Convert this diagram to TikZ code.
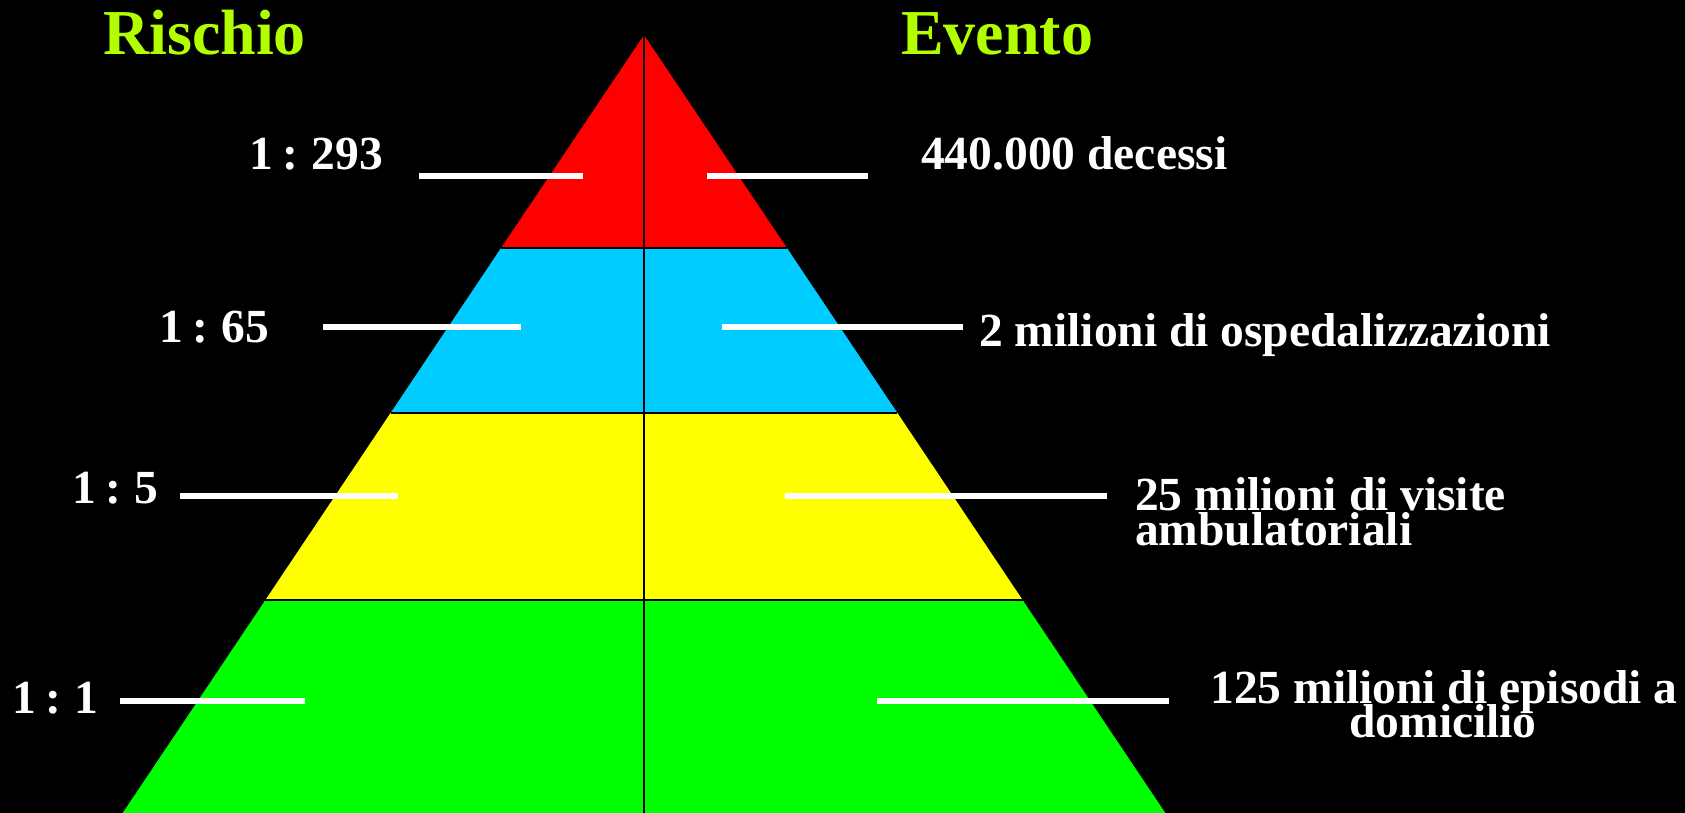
\documentclass[tikz,border=0pt]{standalone}
\usepackage{fontspec}
\setmainfont{Liberation Serif}
\definecolor{titlecol}{RGB}{178,255,0}
\definecolor{pred}{RGB}{255,0,0}
\definecolor{pblue}{RGB}{0,204,255}
\definecolor{pyellow}{RGB}{255,255,0}
\definecolor{pgreen}{RGB}{0,255,0}
\tikzset{
  titletext/.style={inner sep=0pt, text=titlecol, font=\fontsize{64}{64}\selectfont\bfseries},
  labeltext/.style={inner sep=0pt, text=white, font=\fontsize{47.5}{35}\selectfont\bfseries},
  risktext/.style={labeltext, execute at begin node={\spaceskip=9.5pt\relax}},
  band/.style={draw=black, line width=2pt},
  tick/.style={draw=white, line width=6pt},
}
\begin{document}
\begin{tikzpicture}[x=1pt,y=-1pt]
\fill[black] (0,0) rectangle (1685,813);
\useasboundingbox (0,0) rectangle (1685,813);
% pyramid geometry: apex (644,35)
\coordinate (apex) at (644,35);
\begin{scope}
\clip (0,0) rectangle (1685,813);
\fill[pred]    (644,35) -- (786.6,247.5) -- (501.4,247.5) -- cycle;
\fill[pblue]   (501.4,247.5) -- (786.6,247.5) -- (897.1,412.5) -- (390.9,412.5) -- cycle;
\fill[pyellow] (390.9,412.5) -- (897.1,412.5) -- (1022.6,600) -- (265.4,600) -- cycle;
\fill[pgreen]  (265.4,600) -- (1022.6,600) -- (1170,820) -- (118,820) -- cycle;
\draw[band] (501.4,247.5) -- (786.6,247.5);
\draw[band] (390.9,412.5) -- (897.1,412.5);
\draw[band] (265.4,600) -- (1022.6,600);
\draw[black, line width=2pt] (apex) -- (644,820);
\end{scope}
% titles
\node[titletext, anchor=base west] (rischio) at (103,54.5) {Rischio};
\node[titletext, anchor=base west] (evento) at (901,54.5) {Evento};
% left labels
\node[risktext, anchor=base east] (r1) at (383,170) {1 : 293};
\node[risktext, anchor=base east] (r2) at (269.5,342) {1 : 65};
\node[risktext, anchor=base east] (r3) at (158.5,503) {1 : 5};
\node[risktext, anchor=base east] (r4) at (98.5,713) {1 : 1};
% right labels
\node[labeltext, anchor=base west] (e1) at (921,170) {440.000 decessi};
\node[labeltext, anchor=base west] (e2) at (979,346) {2 milioni di ospedalizzazioni};
\node[labeltext, anchor=base west] (e3a) at (1135,510) {25 milioni di visite};
\node[labeltext, anchor=base west] (e3b) at (1135,545) {ambulatoriali};
\node[labeltext, anchor=base] (e4a) at (1444,703) {125 milioni di episodi a};
\node[labeltext, anchor=base] (e4b) at (1443,737) {domicilio};
% tick lines
\coordinate (l1a) at (419,176); \coordinate (l1b) at (583,176);
\coordinate (l2a) at (323,326.5); \coordinate (l2b) at (521,326.5);
\coordinate (l3a) at (179.5,496); \coordinate (l3b) at (398,496);
\coordinate (l4a) at (120,700.5); \coordinate (l4b) at (305,700.5);
\coordinate (m1a) at (707,176); \coordinate (m1b) at (868,176);
\coordinate (m2a) at (722,326.5); \coordinate (m2b) at (963,326.5);
\coordinate (m3a) at (784.5,496); \coordinate (m3b) at (1107,496);
\coordinate (m4a) at (877,700.5); \coordinate (m4b) at (1169,700.5);
\draw[tick] (l1a) -- (l1b);
\draw[tick] (l2a) -- (l2b);
\draw[tick] (l3a) -- (l3b);
\draw[tick] (l4a) -- (l4b);
\draw[tick] (m1a) -- (m1b);
\draw[tick] (m2a) -- (m2b);
\draw[tick] (m3a) -- (m3b);
\draw[tick] (m4a) -- (m4b);
\end{tikzpicture}
\end{document}
